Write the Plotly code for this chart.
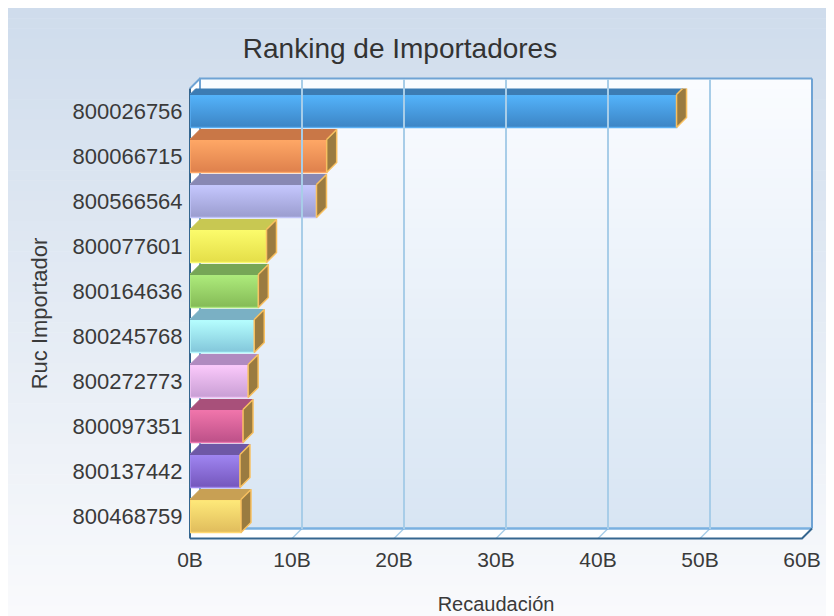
import plotly.graph_objects as go

# ---------------- data ----------------
importers = ["800026756", "800066715", "800566564", "800077601", "800164636",
             "800245768", "800272773", "800097351", "800137442", "800468759"]
recaudacion_b = [47.7, 13.4, 12.4, 7.5, 6.7, 6.3, 5.7, 5.2, 4.9, 5.0]  # billions
x_tick_vals = [0, 10, 20, 30, 40, 50, 60]
x_tick_labels = ["0B", "10B", "20B", "30B", "40B", "50B", "60B"]

front_light = ["#54b4fc", "#ffa866", "#c6c8ff", "#fcfc6c", "#aeec7c",
               "#b6ffff", "#fccafc", "#f276ac", "#a086f2", "#ffea7a"]
front_dark = ["#3c84c4", "#de804c", "#9a9cce", "#e4de48", "#84ba56",
              "#82c6da", "#c89ed4", "#bc5088", "#7456bc", "#e0bc5c"]
front_colors = ["#4899dc", "#f09256", "#aeb2e6", "#f0f058", "#9ad66a",
                "#9ee6f0", "#e2b0e8", "#da639c", "#8b6ed9", "#f0d36a"]
border_colors = ["#5aaef2", "#ffa868", "#c0c4f8", "#fafa70", "#ace880",
                 "#b4f6fc", "#f0c4f4", "#ec78b0", "#a088ee", "#ffd870"]
top_colors = ["#3c7cb4", "#c97747", "#8888b4", "#c8c852", "#76a656",
              "#7ab0c4", "#b08ac0", "#a8507a", "#6e58a6", "#c8a054"]
side_color = "#9a7b40"
side_line = "#f8c060"

# ---------------- geometry (pixels, in page coordinates) ----------------
OFF = 8                    # page body margin
W, H = 834 - OFF, 616 - OFF
FX0, FX1 = 190, 802        # front plane x extent
FYT, FYB = 88.5, 538.5     # front plane y extent
D = 10                     # 3D depth offset in px
XMAX = 60
BARW = 0.733

def fx(px):
    return (px - OFF) / W

def fy(py):
    return 1 - (py - OFF) / H

n = len(importers)
dx = D * XMAX / (FX1 - FX0)             # depth in data units (x)
dy = D * n / (FYB - FYT)                # depth in category units (y)

fig = go.Figure()

# front faces (data marks)
fig.add_trace(go.Bar(
    x=recaudacion_b, y=list(range(n)), orientation="h", width=BARW,
    marker=dict(color=front_colors, line=dict(color=border_colors, width=1.5)),
    xaxis="x", yaxis="y", hoverinfo="skip", showlegend=False,
))

# vertical shading of the front faces
for i, v in enumerate(recaudacion_b):
    yt = i - BARW / 2
    yb = i + BARW / 2
    fig.add_trace(go.Scatter(
        x=[0, v, v, 0, 0], y=[yt, yt, yb, yb, yt],
        fill="toself", mode="lines",
        fillgradient=dict(type="vertical", start=yt, stop=yb,
                          colorscale=[[0, front_light[i]], [1, front_dark[i]]]),
        line=dict(color=border_colors[i], width=1.5),
        xaxis="x", yaxis="y", hoverinfo="skip", showlegend=False,
    ))

# top faces
for i, v in enumerate(recaudacion_b):
    yt = i - BARW / 2
    fig.add_trace(go.Scatter(
        x=[0, v, v + dx, dx, 0], y=[yt, yt, yt - dy, yt - dy, yt],
        fill="toself", fillcolor=top_colors[i], mode="lines",
        line=dict(color=top_colors[i], width=1),
        xaxis="x", yaxis="y", hoverinfo="skip", showlegend=False,
    ))

# side faces
sx, sy = [], []
for i, v in enumerate(recaudacion_b):
    yt = i - BARW / 2
    yb = i + BARW / 2
    sx += [v, v + dx, v + dx, v, v, None]
    sy += [yt, yt - dy, yb - dy, yb, yt, None]
fig.add_trace(go.Scatter(
    x=sx, y=sy, fill="toself", fillcolor=side_color, mode="lines",
    line=dict(color=side_line, width=1.5),
    xaxis="x", yaxis="y", hoverinfo="skip", showlegend=False,
))

# back-wall axes (for gridlines)
fig.add_trace(go.Scatter(x=[None], y=[None], xaxis="x2", yaxis="y2",
                         showlegend=False, hoverinfo="skip"))

shapes = []
# chart background gradient
bg_top = (0xcf, 0xdc, 0xec)
bg_bot = (0xf9, 0xfa, 0xfc)
NS = 60
for k in range(NS):
    t = k / (NS - 1)
    c = tuple(round(bg_top[j] + (bg_bot[j] - bg_top[j]) * t) for j in range(3))
    y0 = OFF + H * k / NS
    y1 = OFF + H * (k + 1) / NS + 0.6
    shapes.append(dict(type="rect", xref="paper", yref="paper", layer="below",
                       x0=0, x1=1, y0=fy(y0), y1=fy(y1),
                       fillcolor="rgb(%d,%d,%d)" % c, line=dict(width=0)))

# back wall gradient
BX0, BX1 = FX0 + D, FX1 + D
BYT, BYB = FYT - D, FYB - D
wall_top = (0xfa, 0xfc, 0xff)
wall_bot = (0xd8, 0xe5, 0xf3)
NW = 45
for k in range(NW):
    t = k / (NW - 1)
    c = tuple(round(wall_top[j] + (wall_bot[j] - wall_top[j]) * t) for j in range(3))
    y0 = BYT + (BYB - BYT) * k / NW
    y1 = BYT + (BYB - BYT) * (k + 1) / NW + 0.6
    shapes.append(dict(type="rect", xref="paper", yref="paper", layer="below",
                       x0=fx(BX0), x1=fx(BX1), y0=fy(y0), y1=fy(y1),
                       fillcolor="rgb(%d,%d,%d)" % c, line=dict(width=0)))

def poly(pts):
    return "M " + " L ".join("%f,%f" % (fx(a), fy(b)) for a, b in pts) + " Z"

# floor
shapes.append(dict(type="path", xref="paper", yref="paper", layer="below",
                   path=poly([(FX0, FYB), (FX1, FYB), (BX1, BYB), (BX0, BYB)]),
                   fillcolor="white", line=dict(width=0)))
# left wall
shapes.append(dict(type="path", xref="paper", yref="paper", layer="below",
                   path=poly([(FX0, FYT), (BX0, BYT), (BX0, BYB), (FX0, FYB)]),
                   fillcolor="white", line=dict(width=0)))
# floor gridlines
for xv in x_tick_vals[1:-1]:
    px = FX0 + (FX1 - FX0) * xv / XMAX
    shapes.append(dict(type="line", xref="paper", yref="paper", layer="below",
                       x0=fx(px), y0=fy(FYB), x1=fx(px + D), y1=fy(BYB),
                       line=dict(color="#a8cde8", width=1.5)))
# back wall outline (top, right) and floor back edge
shapes.append(dict(type="path", xref="paper", yref="paper", layer="below",
                   path="M %f,%f L %f,%f L %f,%f" % (fx(BX0), fy(BYB), fx(BX0), fy(BYT),
                                                    fx(BX1), fy(BYT)),
                   line=dict(color="#6fa3d4", width=2)))
shapes.append(dict(type="line", xref="paper", yref="paper", layer="below",
                   x0=fx(BX1), y0=fy(BYT), x1=fx(BX1), y1=fy(BYB),
                   line=dict(color="#6fa3d4", width=2)))
shapes.append(dict(type="line", xref="paper", yref="paper", layer="below",
                   x0=fx(BX0), y0=fy(BYB), x1=fx(BX1), y1=fy(BYB),
                   line=dict(color="#7ab0e0", width=2.5)))
# left wall top edge and front edges
shapes.append(dict(type="line", xref="paper", yref="paper", layer="below",
                   x0=fx(FX0), y0=fy(FYT), x1=fx(BX0), y1=fy(BYT),
                   line=dict(color="#6fa3d4", width=2)))
shapes.append(dict(type="line", xref="paper", yref="paper", layer="below",
                   x0=fx(FX0), y0=fy(FYT), x1=fx(FX0), y1=fy(FYB),
                   line=dict(color="#35668f", width=2)))
shapes.append(dict(type="path", xref="paper", yref="paper", layer="below",
                   path="M %f,%f L %f,%f L %f,%f" % (fx(FX0), fy(FYB), fx(FX1), fy(FYB),
                                                    fx(BX1), fy(BYB)),
                   line=dict(color="#35668f", width=2)))

font_family = "Liberation Sans, Arial, sans-serif"
text_color = "#3a3a3a"

fig.update_layout(
    width=W, height=H,
    margin=dict(l=0, r=0, t=0, b=0),
    paper_bgcolor="white",
    plot_bgcolor="rgba(0,0,0,0)",
    font=dict(family=font_family, color=text_color, size=22),
    title=dict(text="Ranking de Importadores", x=fx(400), xanchor="center",
               y=fy(48), yanchor="middle",
               font=dict(size=28, color="#333333", family=font_family)),
    showlegend=False,
    bargap=0,
    shapes=shapes,
    xaxis=dict(domain=[fx(FX0), fx(FX1)], range=[0, XMAX], anchor="y",
               tickvals=x_tick_vals, ticktext=x_tick_labels,
               showgrid=False, zeroline=False, showline=False,
               ticks="outside", ticklen=2, tickcolor="rgba(0,0,0,0)",
               tickfont=dict(size=21, color=text_color),
               title=dict(text="Recaudación", standoff=27,
                          font=dict(size=20, color=text_color)),
               automargin=False, fixedrange=True),
    yaxis=dict(domain=[fy(FYB), fy(FYT)], range=[n - 0.5, -0.5], anchor="x",
               tickvals=list(range(n)), ticktext=importers,
               showgrid=False, zeroline=False, showline=False,
               ticks="outside", ticklen=2, tickcolor="rgba(0,0,0,0)",
               tickfont=dict(size=22, color=text_color),
               title=dict(text="Ruc Importador", standoff=18,
                          font=dict(size=22, color=text_color)),
               automargin=False, fixedrange=True),
    xaxis2=dict(domain=[fx(BX0), fx(BX1)], range=[0, XMAX], anchor="y2",
                dtick=10, showgrid=True, gridcolor="#a8cde8", gridwidth=1.5,
                showticklabels=False, zeroline=False, showline=False, ticks=""),
    yaxis2=dict(domain=[fy(BYB), fy(BYT)], range=[n - 0.5, -0.5], anchor="x2",
                showgrid=False, showticklabels=False, zeroline=False,
                showline=False, ticks=""),
)

fig.write_html("out.html")
